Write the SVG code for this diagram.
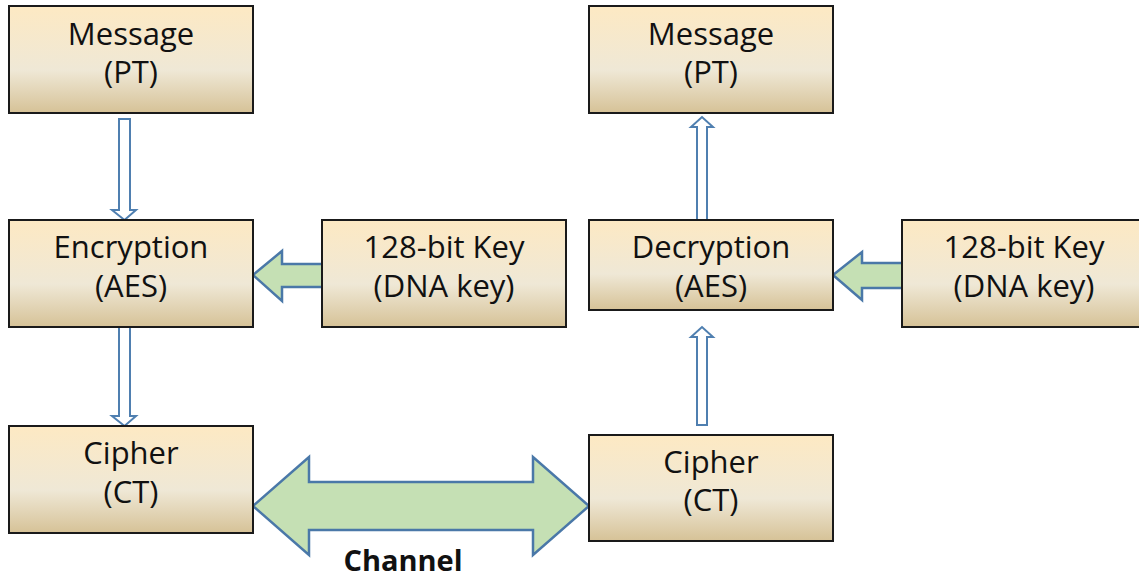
<svg xmlns="http://www.w3.org/2000/svg" width="1139" height="580" viewBox="0 0 1139 580">
<defs>
<linearGradient id="g" x1="0" y1="0" x2="0" y2="1">
<stop offset="0" stop-color="#fde9c3"/>
<stop offset="0.6" stop-color="#efe8d6"/>
<stop offset="1" stop-color="#d6c297"/>
</linearGradient>
<style>
.box{fill:url(#g);stroke:#1a1a1a;stroke-width:2}
.t{font-family:"Open Sans","Liberation Sans",sans-serif;font-size:31px;fill:#111;text-anchor:middle}
.thin{fill:#ffffff;stroke:#4f7fb0;stroke-width:2;stroke-linejoin:miter}
.fat{fill:#c5e0b4;stroke:#4a78a8;stroke-width:2.5;stroke-linejoin:miter}
.lbl{font-family:"Open Sans","Liberation Sans",sans-serif;font-size:29px;font-weight:bold;fill:#111;text-anchor:middle}
</style>
</defs>
<rect width="1139" height="580" fill="#ffffff"/>
<g id="connectors">
<path class="thin" d="M119,119 H130 V210 H136 L124.5,220 L112,210 H119 Z"/>
<path class="thin" d="M119,327 H130 V416 H136 L124.5,426 L112,416 H119 Z"/>
<path class="thin" d="M697,220 V127 H691 L702,117 L713,127 H707 V220 Z"/>
<path class="thin" d="M697,425 V337 H691 L702,327 L713,337 H707 V425 Z"/>
<path class="fat" d="M322,264 H282 V251 L253,275 L282,301 V287 H322"/>
<path class="fat" d="M902,263 H862 V252 L833,275 L862,300 V288 H902"/>
<path class="fat" d="M253,506 L309,457 V482 H533 V457 L589,506 L533,555 V530 H309 V555 Z"/>
<text class="lbl" x="403" y="571">Channel</text>
</g>
<g id="msgL"><rect class="box" x="9" y="6" width="244" height="107"/><text class="t" x="131" y="45">Message</text><text class="t" x="131" y="83">(PT)</text></g>
<g id="enc"><rect class="box" x="9" y="220" width="244" height="107"/><text class="t" x="131" y="258">Encryption</text><text class="t" x="131" y="297">(AES)</text></g>
<g id="ciphL"><rect class="box" x="9" y="426" width="244" height="107"/><text class="t" x="131" y="464">Cipher</text><text class="t" x="131" y="503">(CT)</text></g>
<g id="keyL"><rect class="box" x="322" y="220" width="244" height="107"/><text class="t" x="444" y="258">128-bit Key</text><text class="t" x="444" y="297">(DNA key)</text></g>
<g id="msgR"><rect class="box" x="589" y="6" width="244" height="107"/><text class="t" x="711" y="45">Message</text><text class="t" x="711" y="83">(PT)</text></g>
<g id="dec"><rect class="box" x="589" y="220" width="244" height="90"/><text class="t" x="711" y="258">Decryption</text><text class="t" x="711" y="297">(AES)</text></g>
<g id="keyR"><rect class="box" x="902" y="220" width="244" height="107"/><text class="t" x="1024" y="258">128-bit Key</text><text class="t" x="1024" y="297">(DNA key)</text></g>
<g id="ciphR"><rect class="box" x="589" y="435" width="244" height="106"/><text class="t" x="711" y="473">Cipher</text><text class="t" x="711" y="511">(CT)</text></g>
</svg>
